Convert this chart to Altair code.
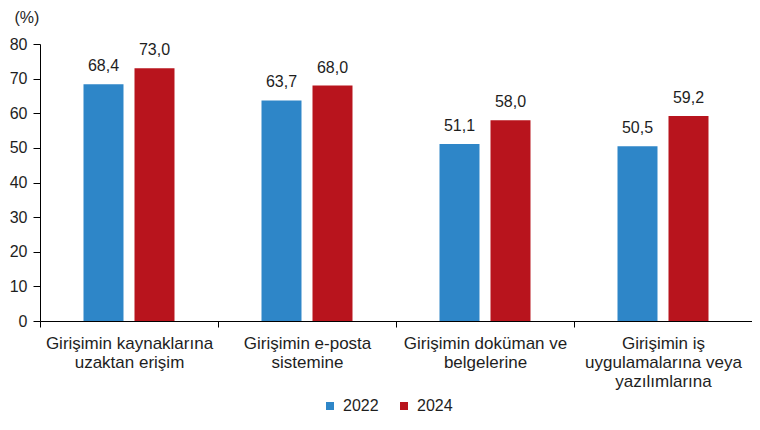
import altair as alt
import pandas as pd

categories = [
    "Girişimin kaynaklarına|uzaktan erişim",
    "Girişimin e-posta|sistemine",
    "Girişimin doküman ve|belgelerine",
    "Girişimin iş|uygulamalarına veya|yazılımlarına",
]
years = ["2022", "2024"]
values_2022 = [68.4, 63.7, 51.1, 50.5]
values_2024 = [73.0, 68.0, 58.0, 59.2]
colors = ["#2e86c8", "#b8141d"]
y_ticks = [0, 10, 20, 30, 40, 50, 60, 70, 80]

rows = []
for c, a, b in zip(categories, values_2022, values_2024):
    rows.append({"category": c, "year": years[0], "value": a})
    rows.append({"category": c, "year": years[1], "value": b})
df = pd.DataFrame(rows)

FONT = "Liberation Sans"
TXT = "#1e1e1e"

x_enc = alt.X(
    "category:N",
    sort=categories,
    scale=alt.Scale(paddingInner=0, paddingOuter=0),
    axis=alt.Axis(
        title=None,
        labelAngle=0,
        labelExpr="split(datum.label, '|')",
        tickBand="extent",
        tickSize=6,
        labelPadding=8,
        labelFontSize=17,
        labelLineHeight=19,
        labelFont=FONT,
        labelColor=TXT,
        labelLimit=400,
        labelOverlap=False,
        labelBaseline="top",
        domainColor="#000",
        tickColor="#000",
    ),
)
xoff = alt.XOffset("year:N", sort=years,
                   scale=alt.Scale(paddingInner=0.2157, paddingOuter=0.853))
y_enc = alt.Y(
    "value:Q",
    scale=alt.Scale(domain=[0, 80], nice=False),
    axis=alt.Axis(
        title="(%)",
        titleAngle=0,
        titleAlign="left",
        titleBaseline="middle",
        titleX=-26,
        titleY=-27,
        titleFontSize=16,
        titleFontWeight="normal",
        titleFont=FONT,
        titleColor=TXT,
        values=y_ticks,
        labelOverlap=False,
        labelSeparation=0,
        grid=False,
        tickSize=7,
        labelFontSize=16,
        labelFont=FONT,
        labelColor=TXT,
        labelPadding=6,
        domainColor="#000",
        tickColor="#000",
    ),
)

base = alt.Chart(df).encode(x=x_enc, xOffset=xoff, y=y_enc)

bars = base.mark_bar().encode(
    color=alt.Color(
        "year:N",
        sort=years,
        scale=alt.Scale(domain=years, range=colors),
        legend=alt.Legend(
            title=None,
            orient="none",
            direction="horizontal",
            legendX=282,
            legendY=354,
            symbolType="square",
            symbolSize=64,
            symbolStrokeWidth=0,
            labelFontSize=16,
            labelFont=FONT,
            labelColor=TXT,
            labelOffset=5,
            columnPadding=17,
        ),
    ),
)

labels = base.transform_calculate(
    lbl="replace(format(datum.value, '.1f'), '.', ',')"
).mark_text(
    baseline="alphabetic", dy=-13, fontSize=16, font=FONT, color=TXT
).encode(
    text="lbl:N",
)

chart = (
    alt.layer(bars, labels)
    .properties(
        width=712,
        height=277,
        autosize=alt.AutoSizeParams(type="none"),
        padding={"left": 32, "top": 36, "right": 0, "bottom": 96},
        background="white",
    )
    .configure_view(stroke=None)
)

chart.save("out.html", embed_options={"renderer": "svg", "actions": False})
